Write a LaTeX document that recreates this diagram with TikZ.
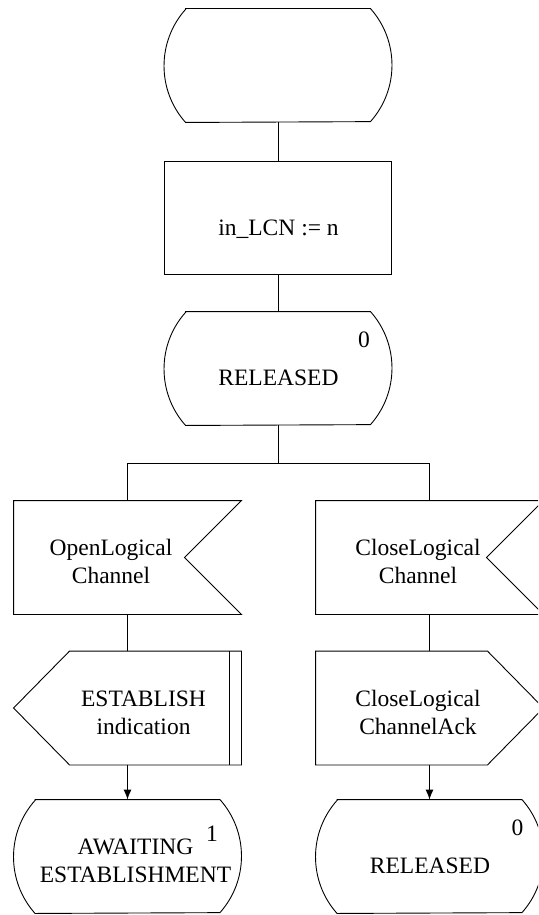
\documentclass[tikz,border=0pt]{standalone}
\usepackage{fontspec}
\setmainfont{Liberation Serif}
\usetikzlibrary{calc,arrows.meta}
\newcommand\drawstatebox[1]{%
  \draw ($(#1.north west)+(21.5,0)$) -- ($(#1.north east)+(-21.5,0)$)
    arc[start angle=41.7,end angle=-41.7,radius=85pt]
    -- ($(#1.south west)+(21.5,0)$)
    arc[start angle=221.7,end angle=138.3,radius=85pt] -- cycle;}
\newcommand\drawinsig[1]{%
  \draw (#1.north west) -- (#1.north east) -- ($(#1.east)+(-57,0)$)
    -- (#1.south east) -- (#1.south west) -- cycle;}
\newcommand\drawoutleft[1]{%
  \draw ($(#1.north west)+(56,0)$) -- (#1.north east) -- (#1.south east)
    -- ($(#1.south west)+(56,0)$) -- (#1.west) -- cycle;
  \draw ($(#1.north east)+(-12,0)$) -- ($(#1.south east)+(-12,0)$);}
\newcommand\drawoutright[1]{%
  \draw (#1.north west) -- ($(#1.north east)+(-56,0)$) -- (#1.east)
    -- ($(#1.south east)+(-56,0)$) -- (#1.south west) -- cycle;}
\begin{document}
\begin{tikzpicture}[x=1pt,y=-1pt,line width=0.9pt,
  shapebox/.style={draw=none,rectangle,inner sep=0pt,minimum width=227pt,minimum height=113pt},
  lbl/.style={font=\fontsize{23.5}{28}\selectfont,inner sep=0pt,anchor=base,align=center},
  arr/.style={-{Latex[length=10pt,width=8pt]}}]
\useasboundingbox (0,0) rectangle (538,915);
\clip (0,0) rectangle (538,915);
% shape nodes
\node[shapebox] (s0) at (278,65.5) {};
\node[shapebox,draw] (task) at (278,217.5) {};
\node[shapebox] (s1) at (278,368.5) {};
\node[shapebox] (in1) at (127.5,557.5) {};
\node[shapebox] (in2) at (429.5,557.5) {};
\node[shapebox] (out1) at (127.5,708) {};
\node[shapebox] (out2) at (429.5,708) {};
\node[shapebox] (s2) at (127.5,856.5) {};
\node[shapebox] (s3) at (429.5,856.5) {};
\coordinate (br) at (278,463);
% outlines
\drawstatebox{s0}
\drawstatebox{s1}
\drawstatebox{s2}
\drawstatebox{s3}
\drawinsig{in1}
\drawinsig{in2}
\drawoutleft{out1}
\drawoutright{out2}
% texts (multi-line nodes: base = last line's baseline)
\node[lbl] (tasktext) at (278.5,235) {in\_LCN := n};
\node[lbl] (s1num) at (364,347) {0};
\node[lbl] (s1text) at (278.5,385) {RELEASED};
\node[lbl] (in1text) at (111,583) {OpenLogical\\Channel};
\node[lbl] (in2text) at (418,583) {CloseLogical\\Channel};
\node[lbl] (out1text) at (143.5,734) {ESTABLISH\\indication};
\node[lbl] (out2text) at (418,734) {CloseLogical\\ChannelAck};
\node[lbl] (s2num) at (212,841) {1};
\node[lbl] (s2text) at (135.5,882) {AWAITING\\ESTABLISHMENT};
\node[lbl] (s3num) at (517.5,835) {0};
\node[lbl] (s3text) at (430,873) {RELEASED};
% connectors
\draw (s0.south) -- (task.north);
\draw (task.south) -- (s1.north);
\draw (s1.south) -- (br) -| (in1.north);
\draw (br) -| (in2.north);
\draw (in1.south) -- (out1.north);
\draw (in2.south) -- (out2.north);
\draw[arr] (out1.south) -- (s2.north);
\draw[arr] (out2.south) -- (s3.north);
\end{tikzpicture}
\end{document}
